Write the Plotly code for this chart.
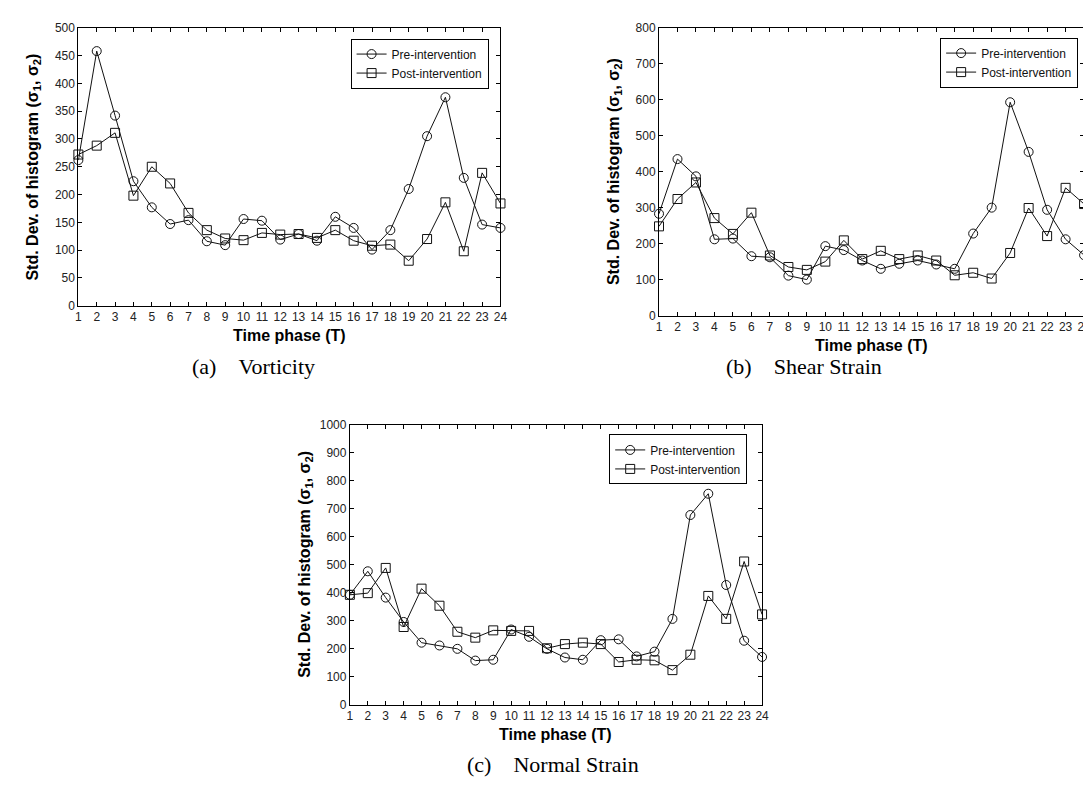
import plotly.graph_objects as go

W, H = 1091, 789

time_phase = list(range(1, 25))

vort_pre = [262, 458, 342, 224, 177, 147, 154, 116, 109, 156, 153, 119, 129, 117, 160, 140, 101, 136, 210, 305, 375, 230, 146, 140]
vort_post = [272, 288, 311, 198, 250, 220, 167, 136, 121, 118, 131, 128, 129, 122, 136, 117, 108, 110, 81, 120, 186, 98, 239, 184]

shear_pre = [283, 435, 387, 212, 214, 165, 162, 111, 100, 193, 182, 153, 130, 144, 153, 142, 130, 228, 300, 593, 455, 294, 212, 168]
shear_post = [248, 324, 370, 271, 227, 286, 167, 135, 127, 150, 209, 157, 180, 157, 167, 153, 112, 119, 103, 174, 299, 221, 355, 310]

normal_pre = [392, 476, 382, 295, 221, 211, 199, 157, 160, 268, 242, 199, 168, 160, 230, 233, 172, 189, 306, 677, 753, 427, 228, 170]
normal_post = [392, 398, 488, 277, 414, 353, 260, 239, 265, 263, 263, 201, 216, 221, 216, 152, 160, 158, 123, 178, 388, 306, 511, 322]

y_ranges = [500, 800, 1000]
y_dticks = [50, 100, 100]
series_names = ["Pre-intervention", "Post-intervention"]
captions = ["(a)\u00a0\u00a0\u00a0\u00a0Vorticity", "(b)\u00a0\u00a0\u00a0\u00a0Shear Strain", "(c)\u00a0\u00a0\u00a0\u00a0Normal Strain"]
x_title = "<b>Time phase (T)</b>"
y_title = "<b>Std. Dev. of histogram (σ<sub>1</sub>, σ<sub>2</sub>)</b>"

# pixel boxes (left, right, top, bottom)
boxes = [(68, 494, 13, 296), (654, 1083, 13, 306), (342, 758, 417, 702)]
legend_pos = [(482, 24), (1077, 23), (743, 427)]
caption_pos = [(245, 358), (800, 358), (547, 763)]

def px(x):
    return x / W

def py(y):
    return 1 - y / H

FONT = "Arial, Liberation Sans, sans-serif"

fig = go.Figure()
data = [(vort_pre, vort_post), (shear_pre, shear_post), (normal_pre, normal_post)]
legend_ids = ["legend", "legend2", "legend3"]

for i, (pre, post) in enumerate(data):
    xa = "x" if i == 0 else f"x{i+1}"
    ya = "y" if i == 0 else f"y{i+1}"
    for vals, name, sym in [(pre, series_names[0], "circle-open"), (post, series_names[1], "square-open")]:
        fig.add_trace(go.Scatter(
            x=time_phase, y=vals, name=name, mode="lines+markers",
            xaxis=xa, yaxis=ya, legend=legend_ids[i], cliponaxis=False,
            line=dict(color="#111", width=1),
            marker=dict(symbol=sym, size=9, color="#111", line=dict(width=1, color="#111")),
        ))

layout = dict(
    width=W, height=H, margin=dict(l=0, r=0, t=0, b=0),
    paper_bgcolor="white", plot_bgcolor="white",
    font=dict(family=FONT, size=12, color="#222"),
    showlegend=True,
)

annotations = []
for i, (l, r, t, b) in enumerate(boxes):
    sfx = "" if i == 0 else str(i + 1)
    common = dict(showline=True, linecolor="black", linewidth=1, mirror="allticks",
                  ticks="inside", ticklen=4, tickcolor="black", showgrid=False,
                  zeroline=False, tickfont=dict(family=FONT, size=12, color="#222"))
    layout["xaxis" + sfx] = dict(domain=[px(l), px(r)], anchor="y" + sfx, range=[1, 24],
                                 tickmode="array", tickvals=time_phase, ticktext=[str(v) for v in time_phase],
                                 **common)
    layout["yaxis" + sfx] = dict(domain=[py(b), py(t)], anchor="x" + sfx, range=[0, y_ranges[i]],
                                 dtick=y_dticks[i], tick0=0, **common)
    lx, ly = legend_pos[i]
    layout[legend_ids[i]] = dict(x=px(lx), y=py(ly), xanchor="right", yanchor="top",
                                 bordercolor="black", borderwidth=1, bgcolor="white",
                                 font=dict(family=FONT, size=12, color="#111"),
                                 tracegroupgap=0, itemwidth=30)
    annotations.append(dict(text=y_title, x=px(l - 45), y=py((t + b) / 2), xref="paper", yref="paper",
                            textangle=-90, showarrow=False, xanchor="center", yanchor="middle",
                            font=dict(family=FONT, size=16, color="black")))
    annotations.append(dict(text=x_title, x=px((l + r) / 2), y=py(b + 30), xref="paper", yref="paper",
                            showarrow=False, xanchor="center", yanchor="middle",
                            font=dict(family=FONT, size=16, color="black")))
    cx, cy = caption_pos[i]
    annotations.append(dict(text=captions[i], x=px(cx), y=py(cy), xref="paper", yref="paper",
                            showarrow=False, xanchor="center", yanchor="middle",
                            font=dict(family="Liberation Serif, Times New Roman, serif", size=22, color="black")))

layout["annotations"] = annotations
fig.update_layout(**layout)
fig.write_html("out.html")
